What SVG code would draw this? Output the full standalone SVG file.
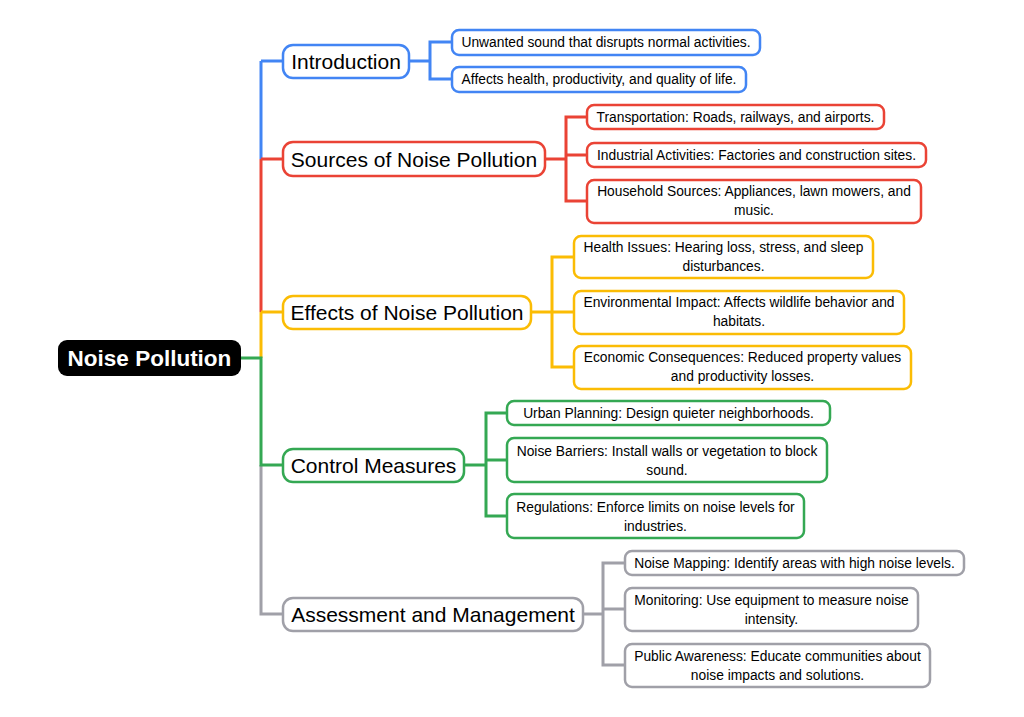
<svg xmlns="http://www.w3.org/2000/svg" width="1024" height="717" viewBox="0 0 1024 717">
<style>
.n{fill:#fff;stroke-width:2.5}
.t1{font-family:"Liberation Sans",Arial,sans-serif;font-size:21px;fill:#000;text-anchor:middle;dominant-baseline:central}
.t2{font-family:"Liberation Sans",Arial,sans-serif;font-size:13.8px;fill:#000;text-anchor:middle;dominant-baseline:central}
.c{fill:none;stroke-width:3}
.blue{stroke:#4285F4}.red{stroke:#EA4335}.yel{stroke:#FBBC04}.grn{stroke:#34A853}.gry{stroke:#A0A0A8}
</style>
<rect width="1024" height="717" fill="#fff"/>
<g id="connectors">
<path class="c blue" d="M261 61V159"/>
<path class="c red" d="M261 159V312"/>
<path class="c yel" d="M261 312V358"/>
<path class="c gry" d="M261 465V614H283"/>
<path class="c grn" d="M241 358H261V465H283"/>
<path class="c blue" d="M261 61H283"/>
<path class="c red" d="M261 159H283"/>
<path class="c yel" d="M261 312H283"/>
<path class="c blue" d="M409 61H430M452 42H430V79H452"/>
<path class="c red" d="M545 159H566M587 117H566V201H587M566 155H587"/>
<path class="c yel" d="M531 312H574M574 257H552V367H574"/>
<path class="c grn" d="M464 465H486M507 413H486V516H507M486 460H507"/>
<path class="c gry" d="M583 614H603M625 563H603V665H625M603 609H625"/>
</g>
<g id="root">
<rect x="58" y="340" width="183" height="36" rx="9" fill="#000"/>
<text x="149.5" y="358" class="t1" style="fill:#fff;font-weight:bold;font-size:22.5px">Noise Pollution</text>
</g>
<g id="introduction">
<rect class="n blue" x="283" y="45" width="126" height="33" rx="10"/>
<text class="t1" x="346" y="61.5">Introduction</text>
</g>
<g id="intro-1"><rect class="n blue" x="452" y="30" width="308" height="25" rx="7"/><text class="t2" x="606" y="42.5">Unwanted sound that disrupts normal activities.</text></g>
<g id="intro-2"><rect class="n blue" x="452" y="67" width="294" height="25" rx="7"/><text class="t2" x="599" y="79.5">Affects health, productivity, and quality of life.</text></g>
<g id="sources">
<rect class="n red" x="283" y="142" width="262" height="34" rx="10"/>
<text class="t1" x="414" y="159.5">Sources of Noise Pollution</text>
</g>
<g id="src-1"><rect class="n red" x="587" y="105" width="297" height="24" rx="7"/><text class="t2" x="735.5" y="117.5">Transportation: Roads, railways, and airports.</text></g>
<g id="src-2"><rect class="n red" x="587" y="143" width="339" height="24" rx="7"/><text class="t2" x="756.5" y="155.5">Industrial Activities: Factories and construction sites.</text></g>
<g id="src-3"><rect class="n red" x="587" y="180" width="334" height="43" rx="7"/><text class="t2" x="754" y="191.5">Household Sources: Appliances, lawn mowers, and</text><text class="t2" x="754" y="210.5">music.</text></g>
<g id="effects">
<rect class="n yel" x="283" y="296" width="248" height="33" rx="10"/>
<text class="t1" x="407" y="312.5">Effects of Noise Pollution</text>
</g>
<g id="eff-1"><rect class="n yel" x="574" y="236" width="299" height="42" rx="7"/><text class="t2" x="723.5" y="247.5">Health Issues: Hearing loss, stress, and sleep</text><text class="t2" x="723.5" y="266.5">disturbances.</text></g>
<g id="eff-2"><rect class="n yel" x="574" y="291" width="330" height="43" rx="7"/><text class="t2" x="739" y="302.5">Environmental Impact: Affects wildlife behavior and</text><text class="t2" x="739" y="321.5">habitats.</text></g>
<g id="eff-3"><rect class="n yel" x="574" y="346" width="337" height="43" rx="7"/><text class="t2" x="742.5" y="357.5">Economic Consequences: Reduced property values</text><text class="t2" x="742.5" y="376.5">and productivity losses.</text></g>
<g id="control">
<rect class="n grn" x="283" y="449" width="181" height="33" rx="10"/>
<text class="t1" x="373.5" y="465.5">Control Measures</text>
</g>
<g id="ctl-1"><rect class="n grn" x="507" y="401" width="323" height="24" rx="7"/><text class="t2" x="668.5" y="413.5">Urban Planning: Design quieter neighborhoods.</text></g>
<g id="ctl-2"><rect class="n grn" x="507" y="438" width="320" height="44" rx="7"/><text class="t2" x="667" y="451">Noise Barriers: Install walls or vegetation to block</text><text class="t2" x="667" y="470">sound.</text></g>
<g id="ctl-3"><rect class="n grn" x="507" y="494" width="297" height="44" rx="7"/><text class="t2" x="655.5" y="507">Regulations: Enforce limits on noise levels for</text><text class="t2" x="655.5" y="526">industries.</text></g>
<g id="assessment">
<rect class="n gry" x="283" y="598" width="300" height="33" rx="10"/>
<text class="t1" x="433" y="614.5">Assessment and Management</text>
</g>
<g id="asm-1"><rect class="n gry" x="625" y="551" width="339" height="24" rx="7"/><text class="t2" x="794.5" y="563.5">Noise Mapping: Identify areas with high noise levels.</text></g>
<g id="asm-2"><rect class="n gry" x="625" y="588" width="293" height="43" rx="7"/><text class="t2" x="771.5" y="600">Monitoring: Use equipment to measure noise</text><text class="t2" x="771.5" y="619">intensity.</text></g>
<g id="asm-3"><rect class="n gry" x="625" y="644" width="305" height="43" rx="7"/><text class="t2" x="777.5" y="656">Public Awareness: Educate communities about</text><text class="t2" x="777.5" y="675">noise impacts and solutions.</text></g>
</svg>
